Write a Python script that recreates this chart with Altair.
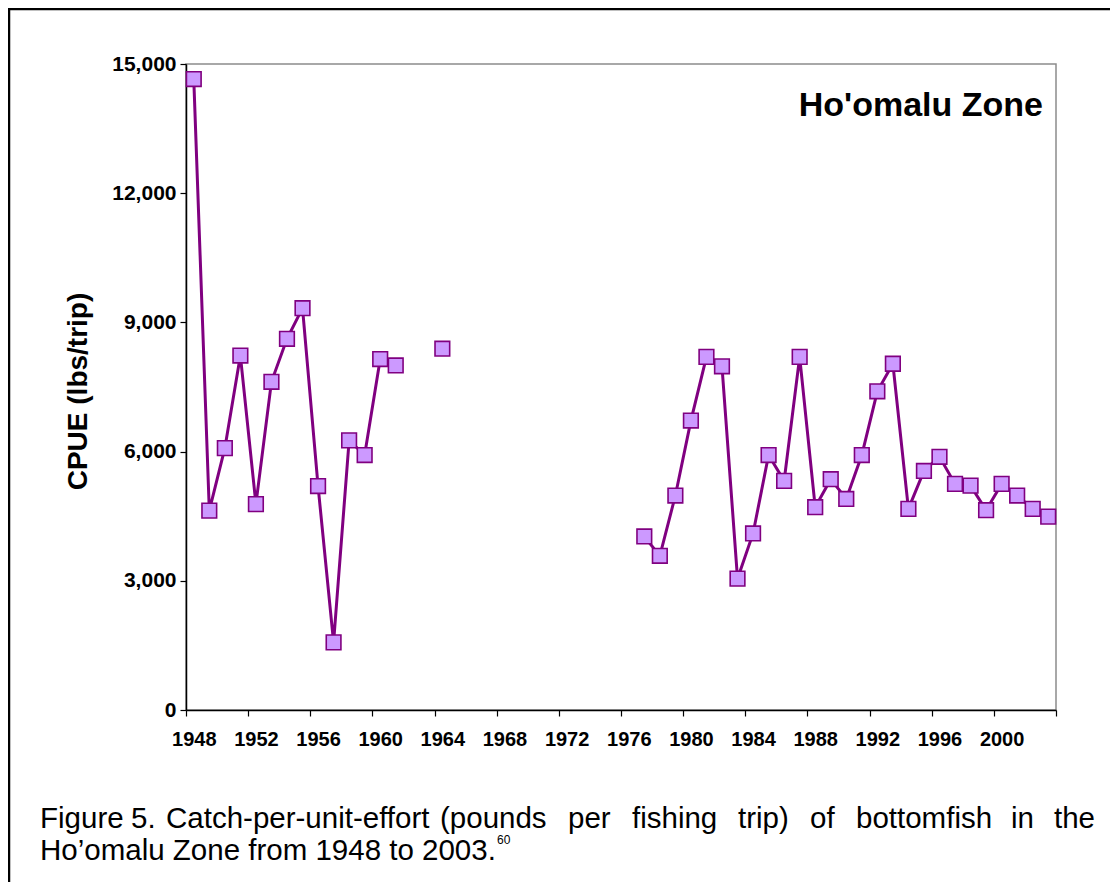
import altair as alt
import pandas as pd

# ---- data ----
years = [1948, 1949, 1950, 1951, 1952, 1953, 1954, 1955, 1956, 1957, 1958, 1959, 1960, 1961,
         1964,
         1977, 1978, 1979, 1980, 1981, 1982, 1983, 1984, 1985, 1986, 1987, 1988, 1989, 1990,
         1991, 1992, 1993, 1994, 1995, 1996, 1997, 1998, 1999, 2000, 2001, 2002, 2003]
cpue = [14650, 4630, 6080, 8230, 4780, 7620, 8620, 9330, 5200, 1570, 6260, 5920, 8150, 8000,
        8390,
        4030, 3580, 4980, 6720, 8200, 7980, 3050, 4100, 5920, 5320, 8200, 4710, 5360, 4900,
        5920, 7400, 8040, 4670, 5550, 5880, 5250, 5210, 4640, 5250, 4980, 4670, 4490]
y_ticks = [0, 3000, 6000, 9000, 12000, 15000]
x_tick_edges = [1947.5 + 2 * i for i in range(29)]

title_text = "Ho'omalu Zone"
y_title = "CPUE (lbs/trip)"
caption_line1 = ["Figure", "5.", "Catch-per-unit-effort", "(pounds", "per", "fishing",
                 "trip)", "of", "bottomfish", "in", "the"]
caption_line2 = "Ho\u2019omalu Zone from 1948 to 2003."
caption_sup = "60"

# segments: consecutive runs of years are joined by the line
seg = []
s = 0
for i, yv in enumerate(years):
    if i > 0 and yv - years[i - 1] > 1:
        s += 1
    seg.append(s)

df = pd.DataFrame({"year": years, "cpue": cpue, "seg": seg})

W, H = 870, 646
PURPLE = "#800080"
LILAC = "#CC99FF"
FONT = "Liberation Sans"

x_enc = alt.X("year:Q",
              scale=alt.Scale(domain=[1947.5, 2003.5], nice=False, zero=False),
              axis=alt.Axis(values=x_tick_edges, title=None, grid=False,
                            labelExpr="((datum.value - 1947.5) % 4 == 0 && datum.value < 2001) ? toString(datum.value + 0.5) : ''",
                            labelOffset=7.77, labelOverlap=False, labelFlush=False,
                            labelFont=FONT, labelFontSize=20, labelFontWeight="bold",
                            labelColor="black", labelPadding=13,
                            tickSize=6, tickColor="black", tickWidth=1.2,
                            domainColor="black", domainWidth=1.5))
y_enc = alt.Y("cpue:Q",
              scale=alt.Scale(domain=[0, 15000], nice=False),
              axis=alt.Axis(values=y_ticks, format=",.0f", grid=False, title=y_title,
                            labelFont=FONT, labelFontSize=21, labelFontWeight="bold",
                            labelColor="black", labelPadding=4,
                            tickSize=6, tickColor="black", tickWidth=1.2,
                            domainColor="black", domainWidth=1.5,
                            titleFont=FONT, titleFontSize=28, titleFontWeight="bold",
                            titleColor="black", titleX=-108, titleY=327,
                            titleAngle=270, titleAlign="center", titleBaseline="middle"))

base = alt.Chart(df)
line = base.mark_line(color=PURPLE, strokeWidth=3).encode(x=x_enc, y=y_enc, detail="seg:N")
pts = base.mark_square(size=215, filled=True, fill=LILAC, stroke=PURPLE,
                       strokeWidth=1.6, opacity=1).encode(x="year:Q", y="cpue:Q")

one = alt.Data(values=[{"a": 1}])

title_mark = alt.Chart(one).mark_text(
    font=FONT, fontSize=34, fontWeight="bold", align="right", baseline="middle", color="black"
).encode(x=alt.value(857), y=alt.value(42), text=alt.value(title_text))

OX = 186  # page x of plot origin
CAP_FS = 29.5
# caption: justified first line, word start positions on the page
word_x1 = [40, 131, 166, 440, 568, 632, 738, 810, 856, 1011, 1095]
cap_layers = []
for i, (w, px) in enumerate(zip(caption_line1, word_x1)):
    al = "right" if i == len(caption_line1) - 1 else "left"
    cap_layers.append(
        alt.Chart(one).mark_text(font=FONT, fontSize=CAP_FS, align=al, baseline="alphabetic",
                                 color="black")
        .encode(x=alt.value(px - OX), y=alt.value(764), text=alt.value(w)))
cap_layers.append(
    alt.Chart(one).mark_text(font=FONT, fontSize=CAP_FS, align="left", baseline="alphabetic",
                             color="black")
    .encode(x=alt.value(40 - OX), y=alt.value(796), text=alt.value(caption_line2)))
cap_layers.append(
    alt.Chart(one).mark_text(font=FONT, fontSize=12, align="left", baseline="alphabetic",
                             color="black")
    .encode(x=alt.value(497 - OX), y=alt.value(780), text=alt.value(caption_sup)))

# outer frame (top and left edges)
frame_left = alt.Chart(one).mark_rule(color="black", strokeWidth=2.5).encode(
    x=alt.value(-177), y=alt.value(-56), y2=alt.value(820))
frame_top = alt.Chart(one).mark_rule(color="black", strokeWidth=2.5).encode(
    x=alt.value(-178), x2=alt.value(930), y=alt.value(-55))

chart = alt.layer(line, pts, title_mark, *cap_layers, frame_left, frame_top).properties(
    width=W, height=H,
    autosize=alt.AutoSizeParams(type="none"),
    padding={"left": 178, "top": 56, "right": 54, "bottom": 172},
    background="white",
).configure_view(stroke="#8c8c8c", strokeWidth=1.5)

chart.save("out.html", embed_options={"renderer": "svg", "actions": False})
